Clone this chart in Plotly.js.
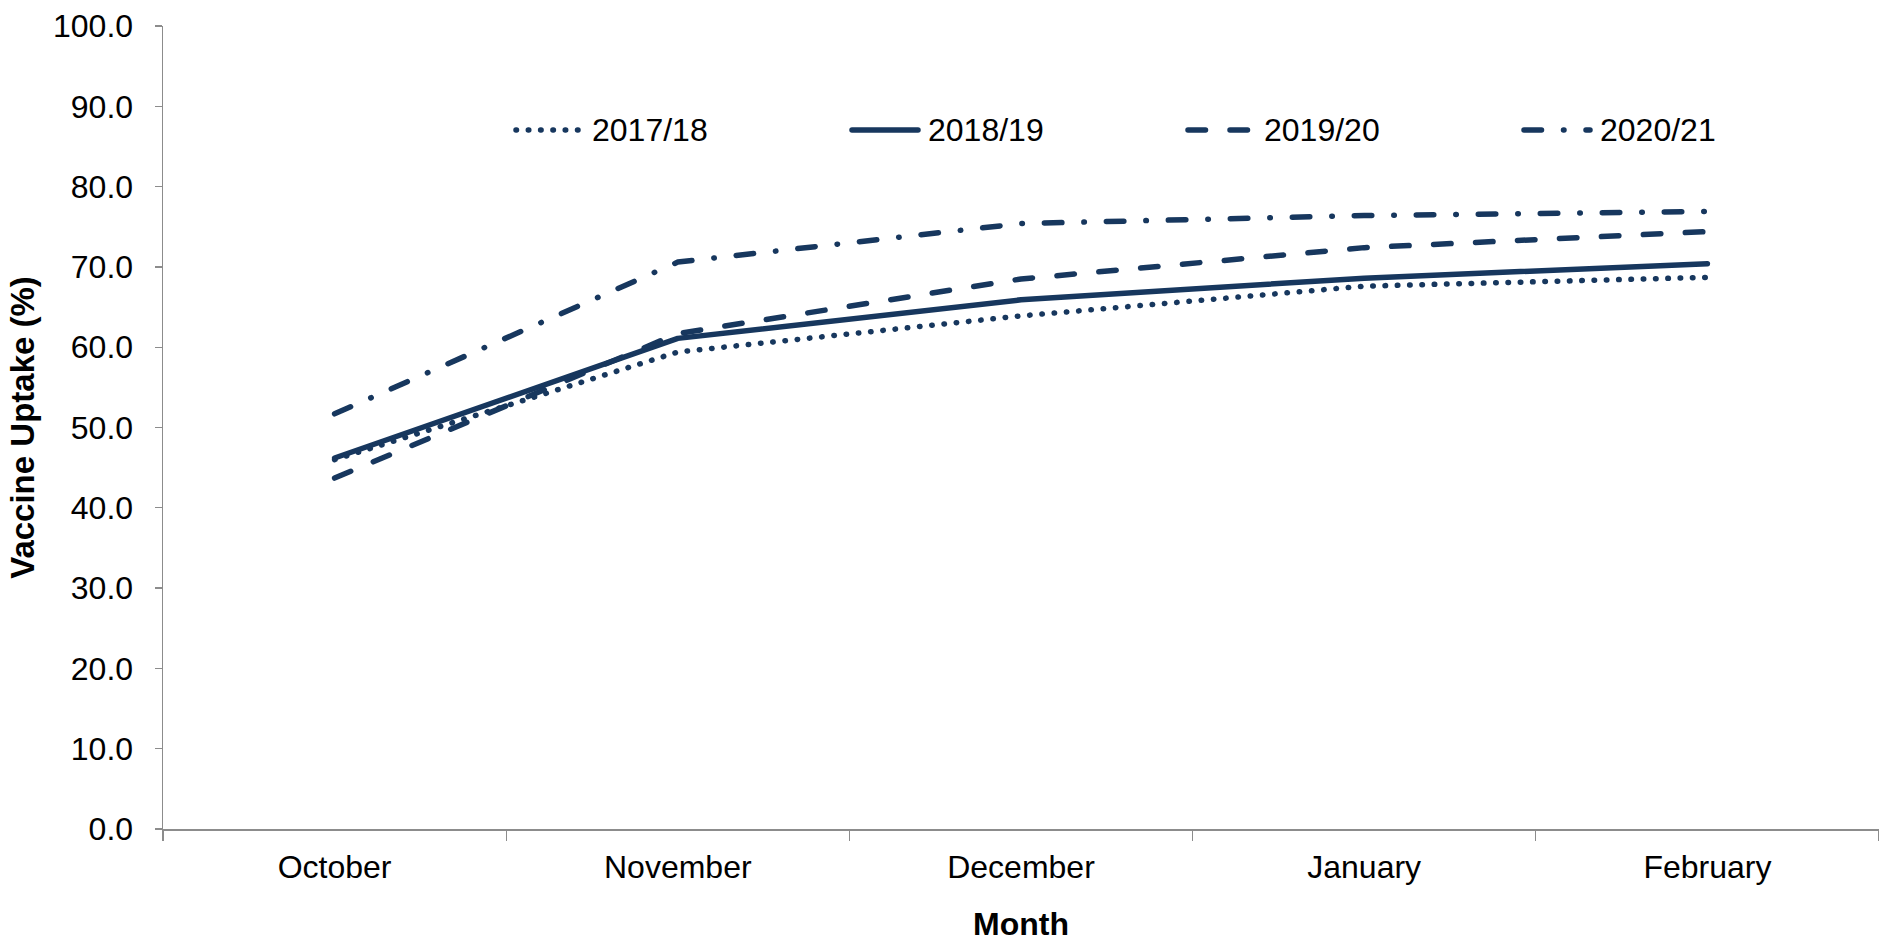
<!DOCTYPE html>
<html>
<head>
<meta charset="utf-8">
<script src="https://cdn.plot.ly/plotly-3.0.1.min.js"></script>
<style>
  html, body { margin: 0; padding: 0; background: #ffffff; overflow: hidden; }
  #chart { width: 1879px; height: 945px; }
  /* rounded ends on the dashes and dots */
  .scatterlayer path.js-line,
  .shapelayer path { stroke-linecap: round; stroke-linejoin: round; }
</style>
</head>
<body>
<div id="chart"></div>
<script>
// Monthly cumulative vaccine uptake (%) by season
const months = ["October", "November", "December", "January", "February"];
const seasons = ["2017/18", "2018/19", "2019/20", "2020/21"];

const uptake2017 = [46.0, 59.4, 63.9, 67.6, 68.7];
const uptake2018 = [46.2, 61.1, 65.9, 68.6, 70.4];
const uptake2019 = [43.7, 61.7, 68.5, 72.4, 74.4];
const uptake2020 = [51.7, 70.6, 75.4, 76.4, 76.9];

const yTicks = [0, 10, 20, 30, 40, 50, 60, 70, 80, 90, 100];

// line styling per season
const navy = "#17375E";
const lineWidth = 5.5;
const dashes = ["0.5px,11.8px", "solid", "17.5px,24.5px", "17.5px,22px,0.5px,22px"];

const FONT = "Liberation Sans, Arial, Helvetica, sans-serif";
const W = 1879, H = 945;
const margin = { l: 163, r: 0, t: 26, b: 116 };
const plotW = W - margin.l - margin.r;
const plotH = H - margin.t - margin.b;

const seriesValues = [uptake2017, uptake2018, uptake2019, uptake2020];

const traces = seasons.map((name, i) => ({
  type: "scatter",
  mode: "lines",
  name: name,
  x: months,
  y: seriesValues[i],
  line: { color: navy, width: lineWidth, dash: dashes[i] },
  showlegend: false,
  hoverinfo: "x+y+name"
}));

// legend row drawn along the top of the plot
const legendLeftPx = 516, legendStepPx = 336, legendSymbolPx = 66, legendTextGapPx = 8;
const legendYPx = 130;
const px2x = px => (px - margin.l) / plotW;
const px2y = py => (H - margin.b - py) / plotH;

const shapes = [];
const annotations = [];
seasons.forEach((name, i) => {
  const x0 = legendLeftPx + i * legendStepPx;
  shapes.push({
    type: "line", xref: "paper", yref: "paper",
    x0: px2x(x0), x1: px2x(x0 + legendSymbolPx),
    y0: px2y(legendYPx), y1: px2y(legendYPx),
    line: { color: navy, width: lineWidth, dash: dashes[i] }
  });
  annotations.push({
    xref: "paper", yref: "paper",
    x: px2x(x0 + legendSymbolPx + legendTextGapPx), y: px2y(legendYPx),
    xanchor: "left", yanchor: "middle",
    text: name, showarrow: false,
    font: { family: FONT, size: 32, color: "#000000" }
  });
});

const layout = {
  width: W, height: H,
  margin: margin,
  paper_bgcolor: "#ffffff",
  plot_bgcolor: "#ffffff",
  font: { family: FONT, size: 32, color: "#000000" },
  showlegend: false,
  xaxis: {
    type: "category",
    range: [-0.5, 4.5],
    showgrid: false,
    zeroline: false,
    showline: true, linecolor: "#8c8c8c", linewidth: 2,
    ticks: "outside", tickson: "boundaries", ticklen: 10, tickwidth: 1.3, tickcolor: "#8c8c8c",
    tickfont: { family: FONT, size: 32, color: "#000000" },
    ticklabelstandoff: 9,
    title: { text: "<b>Month</b>", font: { family: FONT, size: 32, color: "#000000" }, standoff: 28 }
  },
  yaxis: {
    range: [0, 100],
    tickvals: yTicks,
    tickformat: ".1f",
    showgrid: false,
    zeroline: false,
    showline: true, linecolor: "#8c8c8c", linewidth: 1.5,
    ticks: "outside", ticklen: 7, tickwidth: 1.3, tickcolor: "#8c8c8c",
    tickfont: { family: FONT, size: 32, color: "#000000" },
    ticklabelstandoff: 15,
    title: { text: "<b>Vaccine Uptake (%)</b>", font: { family: FONT, size: 33, color: "#000000" }, standoff: 8 }
  },
  shapes: shapes,
  annotations: annotations
};

Plotly.newPlot("chart", traces, layout, { displayModeBar: false, staticPlot: true });
</script>
</body>
</html>
